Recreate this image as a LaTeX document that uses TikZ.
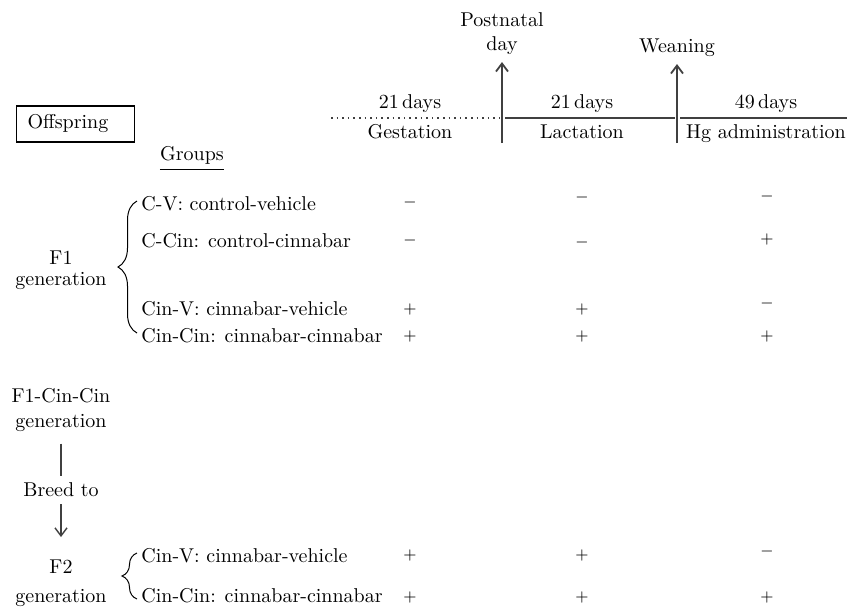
\documentclass[tikz,border=0pt]{standalone}
\usepackage{amsmath}
\usetikzlibrary{arrows.meta}
\usetikzlibrary{decorations.pathreplacing}

\tikzset{
  tline/.style={draw=black!75, line width=0.8pt},
  tarrow/.style={draw=black!75, line width=0.9pt, -{Straight Barb[length=4pt,width=6pt]}},
  lbl/.style={anchor=base, inner sep=0pt},
  grp/.style={anchor=base west, inner sep=0pt},
  sgn/.style={inner sep=0pt, font=\fontsize{8}{9}\selectfont},
  gbrace/.style={draw, line width=0.5pt, decorate, decoration={brace, amplitude=#1}}
}

\begin{document}
\begin{tikzpicture}[x=0.5pt, y=-0.5pt]

\useasboundingbox (0,0) rectangle (847,607);

% time line
\coordinate (dotL) at (331,118);
\coordinate (dotR) at (500,118);
\coordinate (lacL) at (505,118);
\coordinate (lacR) at (675,118);
\coordinate (hgL) at (680,118);
\coordinate (hgR) at (847,118);
\coordinate (birth) at (502,143);
\coordinate (wean) at (677,143);

\path[draw=black!75, line width=0.8pt, dotted] (dotL) -- (dotR);
\path[tline] (lacL) -- (lacR);
\path[tline] (hgL) -- (hgR);

\node[align=center, anchor=south] (pnd) at (502,62) {Postnatal\\day};
\node[anchor=south] (wng) at (677,64) {Weaning};
\draw[tarrow] (birth) -- (pnd.south);
\draw[tarrow] (wean) -- (wng.south);

\node[lbl] (gesA) at (410,108) {21\,days};
\node[lbl] (gesB) at (410,138) {Gestation};
\node[lbl] (lacA) at (582,108) {21\,days};
\node[lbl] (lacB) at (582,138) {Lactation};
\node[lbl] (hgA) at (766,108) {49\,days};
\node[lbl] (hgB) at (766,138) {Hg administration};

% offspring and groups
\node[draw, line width=0.6pt, anchor=west, minimum height=18pt, text width=48pt, inner xsep=5.5pt] (offs) at (16,124) {Offspring};
\node[lbl] (groups) at (192,160) {Groups};
\draw ([yshift=-4.5pt]groups.base west) -- ([yshift=-4.5pt]groups.base east);

\node[grp] (cv) at (141,210) {C-V: control-vehicle};
\node[grp] (ccin) at (141,247) {C-Cin: control-cinnabar};
\node[grp] (cinv) at (141,315) {Cin-V: cinnabar-vehicle};
\node[grp] (cincin) at (141,342) {Cin-Cin: cinnabar-cinnabar};
\node[grp] (fcinv) at (141,562) {Cin-V: cinnabar-vehicle};
\node[grp] (fcincin) at (141,602) {Cin-Cin: cinnabar-cinnabar};

% generations
\node[lbl] (fone) at (61,264) {F1};
\node[lbl] (fonegen) at (61,285) {generation};
\node[lbl] (fcc) at (61,402) {F1-Cin-Cin};
\node[lbl] (fccgen) at (61,427) {generation};
\node (breed) at (61,490) {Breed to};
\node[lbl] (ftwo) at (61,573) {F2};
\node[lbl] (ftwogen) at (61,602) {generation};

\draw[draw=black!75, line width=0.7pt, shorten <=6pt] (fccgen.south) -- (breed.north);
\draw[draw=black!75, line width=0.7pt, shorten >=11pt, -{Straight Barb[length=4pt,width=6pt]}] (breed.south) -- (ftwo.north);

\coordinate (oneBot) at (137,333);
\coordinate (oneTop) at (137,201);
\coordinate (twoBot) at (137,599);
\coordinate (twoTop) at (137,553);
\draw[gbrace=9.5pt] (oneBot) -- (oneTop);
\draw[gbrace=7.5pt] (twoBot) -- (twoTop);

% plus and minus
\foreach \x/\y/\s/\n in {410/202/-/a1, 410/240/-/a2, 410/309/+/a3, 410/336/+/a4, 410/555/+/a5, 410/597/+/a6,
                         582/197/-/b1, 582/242/-/b2, 582/309/+/b3, 582/336/+/b4, 582/555/+/b5, 582/597/+/b6,
                         767/196/-/c1, 767/239/+/c2, 767/303/-/c3, 767/336/+/c4, 767/551/-/c5, 767/597/+/c6}
    \node[sgn] (\n) at (\x,\y) {$\s$};

\end{tikzpicture}
\end{document}
